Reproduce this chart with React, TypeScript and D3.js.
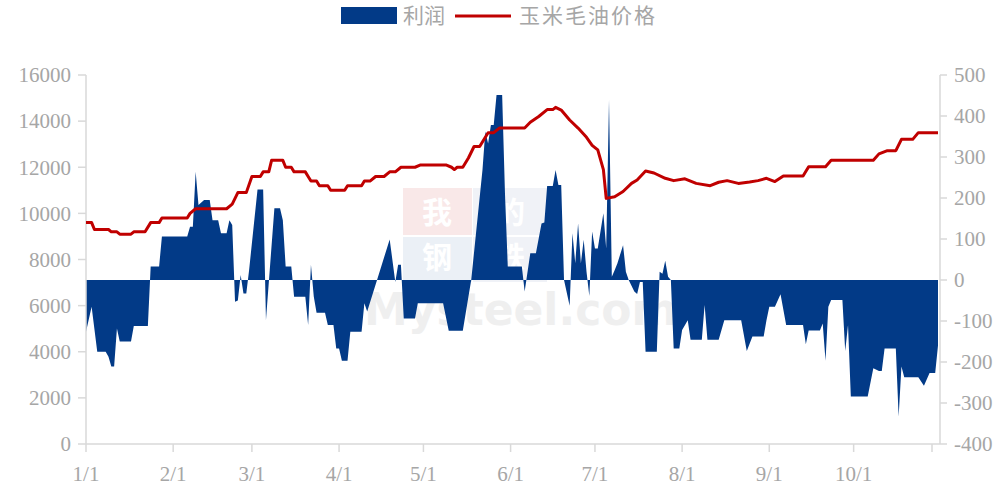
import React from "react";
import * as d3 from "d3";

// ---- data ----
const priceDates = [
  "2023-01-01","2023-01-03","2023-01-04","2023-01-09","2023-01-10","2023-01-12","2023-01-13","2023-01-17",
  "2023-01-18","2023-01-22","2023-01-24","2023-01-27","2023-01-28","2023-02-06","2023-02-07","2023-02-09",
  "2023-02-20","2023-02-22","2023-02-24","2023-02-27","2023-03-01","2023-03-04","2023-03-05","2023-03-07",
  "2023-03-08","2023-03-12","2023-03-13","2023-03-15","2023-03-16","2023-03-20","2023-03-21","2023-03-22",
  "2023-03-24","2023-03-25","2023-03-28","2023-03-29","2023-04-03","2023-04-04","2023-04-09","2023-04-10",
  "2023-04-12","2023-04-14","2023-04-17","2023-04-19","2023-04-21","2023-04-23","2023-04-28","2023-04-30",
  "2023-05-09","2023-05-11","2023-05-12","2023-05-13","2023-05-15","2023-05-17","2023-05-19","2023-05-21",
  "2023-05-24","2023-05-26","2023-05-28","2023-06-06","2023-06-08","2023-06-11","2023-06-14","2023-06-16",
  "2023-06-17","2023-06-19","2023-06-22","2023-06-25","2023-06-28","2023-06-30","2023-07-02","2023-07-04",
  "2023-07-05","2023-07-08","2023-07-11","2023-07-14","2023-07-16","2023-07-19","2023-07-22","2023-07-26",
  "2023-07-29","2023-08-02","2023-08-06","2023-08-11","2023-08-14","2023-08-17","2023-08-21","2023-08-25",
  "2023-08-28","2023-08-31","2023-09-03","2023-09-06","2023-09-13","2023-09-15","2023-09-21","2023-09-23",
  "2023-10-08","2023-10-10","2023-10-13","2023-10-16","2023-10-18","2023-10-22","2023-10-24","2023-10-31"
];
const priceValues = [
  9600,9600,9300,9300,9200,9200,9100,9100,
  9200,9200,9600,9600,9800,9800,10000,10200,
  10200,10400,10900,10900,11600,11600,11800,11800,
  12300,12300,12000,12000,11800,11800,11600,11400,
  11400,11200,11200,11000,11000,11200,11200,11400,
  11400,11600,11600,11800,11800,12000,12000,12100,
  12100,12000,11900,12000,12000,12400,12900,12900,
  13500,13500,13700,13700,13950,14200,14500,14500,
  14600,14480,14050,13700,13300,12950,12750,11900,
  10650,10720,10950,11300,11450,11840,11750,11520,
  11420,11500,11300,11200,11350,11420,11300,11360,
  11420,11520,11380,11620,11620,12025,12025,12300,
  12300,12580,12720,12720,13210,13210,13500,13500
];

const profitDates = [
  "2023-01-01","2023-01-03","2023-01-05","2023-01-08","2023-01-09","2023-01-10","2023-01-11","2023-01-12",
  "2023-01-13","2023-01-17","2023-01-18","2023-01-23","2023-01-24","2023-01-27","2023-01-28","2023-02-06",
  "2023-02-07","2023-02-08","2023-02-09","2023-02-10","2023-02-12","2023-02-14","2023-02-15","2023-02-17",
  "2023-02-18","2023-02-20","2023-02-21","2023-02-22","2023-02-23","2023-02-24","2023-02-25","2023-02-26",
  "2023-02-27","2023-02-28","2023-03-03","2023-03-05","2023-03-06","2023-03-09","2023-03-11","2023-03-12",
  "2023-03-13","2023-03-15","2023-03-16","2023-03-20","2023-03-21","2023-03-22","2023-03-23","2023-03-24",
  "2023-03-27","2023-03-28","2023-03-30","2023-03-31","2023-04-01","2023-04-02","2023-04-04","2023-04-05",
  "2023-04-09","2023-04-10","2023-04-11","2023-04-16","2023-04-19","2023-04-21","2023-04-22","2023-04-23",
  "2023-04-24","2023-04-28","2023-04-29","2023-05-08","2023-05-10","2023-05-15","2023-05-17","2023-05-18",
  "2023-05-22","2023-05-23","2023-05-24","2023-05-25","2023-05-26","2023-05-27","2023-05-29","2023-05-30",
  "2023-05-31","2023-06-05","2023-06-06","2023-06-08","2023-06-10","2023-06-12","2023-06-13","2023-06-14",
  "2023-06-16","2023-06-17","2023-06-18","2023-06-19","2023-06-20","2023-06-22","2023-06-23","2023-06-24",
  "2023-06-25","2023-06-26","2023-06-27","2023-06-28","2023-06-29","2023-06-30","2023-07-01","2023-07-02",
  "2023-07-04","2023-07-05","2023-07-06","2023-07-07","2023-07-08","2023-07-09","2023-07-11","2023-07-12",
  "2023-07-13","2023-07-15","2023-07-16","2023-07-17","2023-07-18","2023-07-19","2023-07-23","2023-07-24",
  "2023-07-25","2023-07-26","2023-07-27","2023-07-28","2023-07-29","2023-07-31","2023-08-01","2023-08-03",
  "2023-08-04","2023-08-08","2023-08-09","2023-08-10","2023-08-14","2023-08-16","2023-08-22","2023-08-24",
  "2023-08-26","2023-08-30","2023-08-31","2023-09-01","2023-09-03","2023-09-05","2023-09-07","2023-09-13",
  "2023-09-14","2023-09-15","2023-09-19","2023-09-20","2023-09-21","2023-09-22","2023-09-23","2023-09-27",
  "2023-09-28","2023-09-29","2023-09-30","2023-10-06","2023-10-08","2023-10-10","2023-10-11","2023-10-12",
  "2023-10-16","2023-10-17","2023-10-18","2023-10-19","2023-10-24","2023-10-26","2023-10-28","2023-10-30",
  "2023-10-31"
];
const profitValues = [
  -126,-65,-175,-175,-187,-211,-211,-118,
  -150,-150,-112,-112,33,33,106,106,
  130,130,264,183,195,195,146,146,
  114,114,146,134,-53,-50,12,-33,
  -33,24,221,221,-98,175,175,146,
  33,33,-41,-41,-110,37,-40,-80,
  -80,-110,-110,-167,-167,-197,-197,-126,
  -126,-57,-77,33,99,-5,37,37,
  -94,-94,-57,-57,-124,-124,-41,0,
  268,362,333,378,378,451,451,211,
  33,33,-28,65,65,138,140,229,
  229,268,232,232,0,-63,114,41,
  138,41,98,20,-39,118,77,77,
  163,77,439,8,24,41,85,20,
  0,-28,-34,-5,-5,-175,-175,20,
  15,47,8,0,-167,-167,-122,-98,
  -146,-146,-61,-146,-146,-98,-98,-173,
  -138,-138,-98,-65,-65,-35,-110,-110,
  -157,-123,-123,-106,-197,-65,-49,-49,
  -173,-110,-284,-284,-215,-222,-222,-167,
  -167,-333,-211,-237,-237,-258,-227,-227,
  -160
];

const leftTicks = [0, 2000, 4000, 6000, 8000, 10000, 12000, 14000, 16000];
const rightTicks = [-400, -300, -200, -100, 0, 100, 200, 300, 400, 500];
const seriesNames = ["利润", "玉米毛油价格"];

const parse = d3.timeParse("%Y-%m-%d");

export default function App() {
  const W = 1006, H = 492;
  const left = 86, right = 938, top = 75, bottom = 444, axisRight = 940;

  const x = d3.scaleTime()
    .domain([parse("2023-01-01") as Date, parse("2023-10-31") as Date])
    .range([left, right]);
  const yL = d3.scaleLinear().domain([0, 16000]).range([bottom, top]);
  const yR = d3.scaleLinear().domain([-400, 500]).range([bottom, top]);

  const price = priceDates.map((d, i) => ({ date: parse(d) as Date, v: priceValues[i] }));
  const profit = profitDates.map((d, i) => ({ date: parse(d) as Date, v: profitValues[i] }));

  const area = d3.area<{ date: Date; v: number }>()
    .x(d => x(d.date))
    .y0(yR(0))
    .y1(d => yR(d.v));
  const line = d3.line<{ date: Date; v: number }>()
    .x(d => x(d.date))
    .y(d => yL(d.v));

  const monthTicks = d3.timeMonth.range(parse("2023-01-01") as Date, parse("2023-11-01") as Date);
  const fmt = d3.timeFormat("%-m/%-d");

  const axisColor = "#d9d9d9";
  const textColor = "#a6a6a6";
  const numFont = "'Liberation Serif', 'Times New Roman', serif";
  const cjkFont = "'Noto Sans CJK SC', sans-serif";

  return (
    <svg width={W} height={H} style={{ position: "absolute", left: 0, top: 0, background: "#fff" }}>
      {/* watermark */}
      <g>
        <rect x={403} y={188} width={69} height={47} fill="#f7dede" opacity={0.7} />
        <rect x={473} y={188} width={74} height={47} fill="#e9edf3" opacity={0.7} />
        <rect x={403} y={237} width={69} height={45} fill="#e3e9f2" opacity={0.7} />
        <rect x={473} y={237} width={74} height={45} fill="#e9edf3" opacity={0.7} />
        <text x={437} y={223} textAnchor="middle" fontSize={30} fontWeight="bold" fill="#fff" fontFamily={cjkFont}>我</text>
        <text x={510} y={223} textAnchor="middle" fontSize={30} fontWeight="bold" fill="#fff" fontFamily={cjkFont}>的</text>
        <text x={437} y={268} textAnchor="middle" fontSize={30} fontWeight="bold" fill="#fff" fontFamily={cjkFont}>钢</text>
        <text x={510} y={268} textAnchor="middle" fontSize={30} fontWeight="bold" fill="#fff" fontFamily={cjkFont}>铁</text>
        <text x={364} y={325} fontSize={44} fontWeight="bold" fill="#efefef" fontFamily="'DejaVu Sans', sans-serif">Mysteel.com</text>
      </g>

      {/* profit area */}
      <path d={area(profit) || ""} fill="#023a87" />

      {/* axes */}
      <line x1={left} x2={left} y1={top} y2={bottom} stroke={axisColor} strokeWidth={1.5} />
      <line x1={axisRight} x2={axisRight} y1={top} y2={bottom} stroke={axisColor} strokeWidth={1.5} />
      <line x1={left} x2={axisRight} y1={bottom} y2={bottom} stroke={axisColor} strokeWidth={1.5} />

      {leftTicks.map(t => (
        <g key={"l" + t}>
          <line x1={left - 8} x2={left} y1={yL(t)} y2={yL(t)} stroke={axisColor} strokeWidth={1.5} />
          <text x={71} y={yL(t)} dy="0.35em" textAnchor="end" fontSize={21} fill={textColor} fontFamily={numFont}>{t}</text>
        </g>
      ))}
      {rightTicks.map(t => (
        <g key={"r" + t}>
          <line x1={axisRight} x2={axisRight + 7} y1={yR(t)} y2={yR(t)} stroke={axisColor} strokeWidth={1.5} />
          <text x={954} y={yR(t)} dy="0.35em" textAnchor="start" fontSize={21} fill={textColor} fontFamily={numFont}>{t}</text>
        </g>
      ))}
      {monthTicks.filter(d => x(d) <= right).map(d => (
        <g key={"x" + d.getTime()}>
          <line x1={x(d)} x2={x(d)} y1={bottom} y2={bottom + 8} stroke={axisColor} strokeWidth={1.5} />
          <text x={x(d)} y={481} textAnchor="middle" fontSize={21} fill={textColor} fontFamily={numFont}>{fmt(d)}</text>
        </g>
      ))}
      <line x1={932} x2={932} y1={bottom} y2={bottom + 8} stroke={axisColor} strokeWidth={1.5} />

      {/* price line */}
      <path d={line(price) || ""} fill="none" stroke="#c00000" strokeWidth={3} strokeLinejoin="round" />

      {/* legend */}
      <rect x={341} y={7} width={56} height={17} fill="#023a87" />
      <text x={403} y={23} fontSize={21} fill={textColor} fontFamily={cjkFont}>{seriesNames[0]}</text>
      <line x1={455} x2={511} y1={16} y2={16} stroke="#c00000" strokeWidth={3} />
      <text x={519} y={23} fontSize={21} fill={textColor} fontFamily={cjkFont} letterSpacing={2}>{seriesNames[1]}</text>
    </svg>
  );
}
